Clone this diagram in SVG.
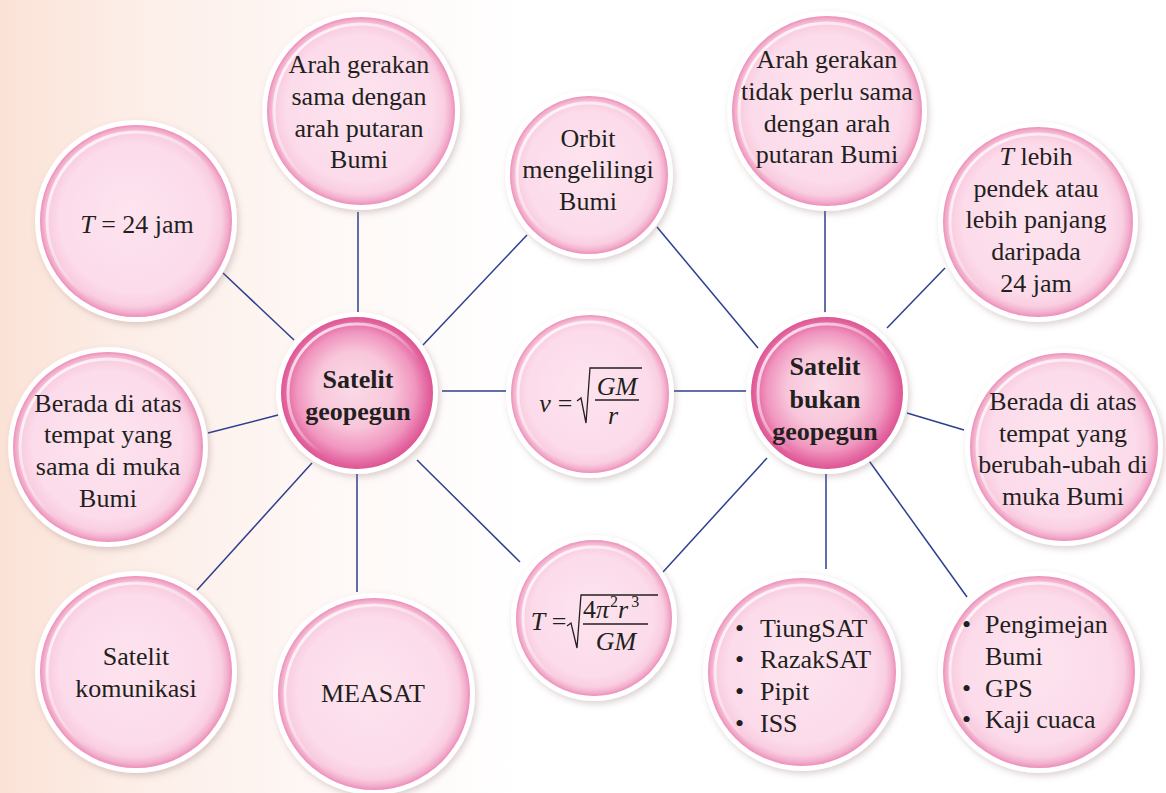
<svg xmlns="http://www.w3.org/2000/svg" width="1166" height="793" viewBox="0 0 1166 793">
<defs>
<linearGradient id="bg" x1="0" y1="0" x2="1" y2="0">
<stop offset="0" stop-color="#fbe2d6"/>
<stop offset="0.1" stop-color="#fcede6"/>
<stop offset="0.28" stop-color="#fef8f6"/>
<stop offset="0.45" stop-color="#ffffff"/>
</linearGradient>
<radialGradient id="gLeaf" cx="0.5" cy="0.5" r="0.5" fx="0.46" fy="0.44">
<stop offset="0" stop-color="#fde4ef"/>
<stop offset="0.78" stop-color="#fcdbea"/>
<stop offset="0.9" stop-color="#f9cee1"/>
<stop offset="0.96" stop-color="#f3afcd"/>
<stop offset="1" stop-color="#ec8fb9"/>
</radialGradient>
<radialGradient id="gHub" cx="0.5" cy="0.5" r="0.5" fx="0.47" fy="0.45">
<stop offset="0" stop-color="#fbdbe8"/>
<stop offset="0.5" stop-color="#f8c6da"/>
<stop offset="0.78" stop-color="#f096bf"/>
<stop offset="0.92" stop-color="#e56aa3"/>
<stop offset="1" stop-color="#dd5592"/>
</radialGradient>
<linearGradient id="gHl" x1="0" y1="0" x2="1" y2="1">
<stop offset="0" stop-color="#ffffff" stop-opacity="0.95"/>
<stop offset="0.45" stop-color="#ffffff" stop-opacity="0.35"/>
<stop offset="0.6" stop-color="#ffffff" stop-opacity="0"/>
</linearGradient>
<filter id="sh" x="-20%" y="-20%" width="140%" height="140%">
<feDropShadow dx="2" dy="3" stdDeviation="3" flood-color="#8a6a70" flood-opacity="0.3"/>
</filter>
</defs>
<style>
.ring{fill:#ffffff;filter:url(#sh)}
.leaf{fill:url(#gLeaf)}
.hub{fill:url(#gHub)}
.hl{fill:none;stroke:url(#gHl);stroke-width:3}
.t{font-family:"Liberation Serif","Times New Roman",serif;font-size:26px;fill:#231f20;text-anchor:middle}
.l{text-anchor:start}
.b{font-weight:bold}
.i{font-style:italic}
.con{stroke:#2e3f8e;stroke-width:1.5;fill:none}
.m{stroke:#231f20;stroke-width:1.3;fill:none}
</style>
<rect width="1166" height="793" fill="url(#bg)"/>

<g id="connectors">
<line class="con" x1="358" y1="212" x2="358" y2="313"/>
<line class="con" x1="223" y1="273" x2="294" y2="340"/>
<line class="con" x1="208" y1="433" x2="278" y2="415"/>
<line class="con" x1="197" y1="590" x2="312" y2="463"/>
<line class="con" x1="357" y1="474" x2="357" y2="592"/>
<line class="con" x1="423" y1="345" x2="527" y2="235"/>
<line class="con" x1="442" y1="391" x2="506" y2="391"/>
<line class="con" x1="417" y1="460" x2="520" y2="562"/>
<line class="con" x1="663" y1="572" x2="767" y2="458"/>
<line class="con" x1="674" y1="391" x2="747" y2="391"/>
<line class="con" x1="657" y1="227" x2="758" y2="348"/>
<line class="con" x1="825" y1="211" x2="825" y2="313"/>
<line class="con" x1="945" y1="268" x2="887" y2="328"/>
<line class="con" x1="907" y1="413" x2="964" y2="430"/>
<line class="con" x1="862" y1="451" x2="967" y2="597"/>
<line class="con" x1="826" y1="474" x2="826" y2="569"/>
</g>

<g id="n-arah-sama">
<circle class="ring" cx="361" cy="111" r="99"/>
<circle class="leaf" cx="361" cy="111" r="94"/>
<circle class="hl" cx="361" cy="111" r="87"/>
<text class="t"><tspan x="359" y="73">Arah gerakan</tspan><tspan x="359" y="105">sama dengan</tspan><tspan x="359" y="137">arah putaran</tspan><tspan x="359" y="168">Bumi</tspan></text>
</g>

<g id="n-t24">
<circle class="ring" cx="136" cy="221" r="101"/>
<circle class="leaf" cx="136" cy="221" r="96"/>
<circle class="hl" cx="136" cy="221" r="89"/>
<text class="t" x="137" y="233"><tspan class="i">T</tspan> = 24 jam</text>
</g>

<g id="n-berada-sama">
<circle class="ring" cx="108" cy="447" r="100"/>
<circle class="leaf" cx="108" cy="447" r="95"/>
<circle class="hl" cx="108" cy="447" r="88"/>
<text class="t"><tspan x="108" y="412">Berada di atas</tspan><tspan x="108" y="443">tempat yang</tspan><tspan x="108" y="475">sama di muka</tspan><tspan x="108" y="507">Bumi</tspan></text>
</g>

<g id="n-komunikasi">
<circle class="ring" cx="136" cy="672" r="101"/>
<circle class="leaf" cx="136" cy="672" r="96"/>
<circle class="hl" cx="136" cy="672" r="89"/>
<text class="t"><tspan x="136" y="665">Satelit</tspan><tspan x="136" y="697">komunikasi</tspan></text>
</g>

<g id="n-measat">
<circle class="ring" cx="374" cy="694" r="101"/>
<circle class="leaf" cx="374" cy="694" r="96"/>
<circle class="hl" cx="374" cy="694" r="89"/>
<text class="t" x="373" y="702">MEASAT</text>
</g>

<g id="hub-geopegun">
<circle class="ring" cx="357" cy="393" r="81"/>
<circle class="hub" cx="357" cy="393" r="76"/>
<circle class="hl" cx="357" cy="393" r="69"/>
<text class="t b"><tspan x="358" y="388">Satelit</tspan><tspan x="358" y="420">geopegun</tspan></text>
</g>

<g id="n-orbit">
<circle class="ring" cx="589" cy="175" r="84"/>
<circle class="leaf" cx="589" cy="175" r="79"/>
<circle class="hl" cx="589" cy="175" r="72"/>
<text class="t"><tspan x="588" y="147">Orbit</tspan><tspan x="588" y="178">mengelilingi</tspan><tspan x="588" y="210">Bumi</tspan></text>
</g>

<g id="n-v">
<circle class="ring" cx="590" cy="394" r="84"/>
<circle class="leaf" cx="590" cy="394" r="79"/>
<circle class="hl" cx="590" cy="394" r="72"/>
<text class="t i" x="545" y="412">v</text>
<text class="t" x="565" y="412">=</text>
<polyline class="m" points="577,401 581,398 586,423 590,368 642,368"/>
<text class="t i" x="617" y="395">GM</text>
<line class="m" x1="595" y1="400" x2="639" y2="400"/>
<text class="t i" x="613" y="424">r</text>
</g>

<g id="n-T">
<circle class="ring" cx="594" cy="618" r="83"/>
<circle class="leaf" cx="594" cy="618" r="78"/>
<circle class="hl" cx="594" cy="618" r="71"/>
<text class="t i" x="538" y="630">T</text>
<text class="t" x="559" y="630">=</text>
<polyline class="m" points="567,626 571,623 577,648 581,595 658,595"/>
<text class="t l" x="583" y="618">4<tspan class="i">π</tspan><tspan font-size="16" dx="1" dy="-11">2</tspan><tspan class="i" dy="11">r</tspan><tspan font-size="16" dx="3" dy="-11">3</tspan></text>
<line class="m" x1="583" y1="624" x2="648" y2="624"/>
<text class="t i" x="616" y="650">GM</text>
</g>

<g id="hub-bukan">
<circle class="ring" cx="827" cy="393" r="81"/>
<circle class="hub" cx="827" cy="393" r="76"/>
<circle class="hl" cx="827" cy="393" r="69"/>
<text class="t b"><tspan x="825" y="375">Satelit</tspan><tspan x="825" y="408">bukan</tspan><tspan x="825" y="440">geopegun</tspan></text>
</g>

<g id="n-arah-tidak">
<circle class="ring" cx="827" cy="111" r="100"/>
<circle class="leaf" cx="827" cy="111" r="95"/>
<circle class="hl" cx="827" cy="111" r="88"/>
<text class="t"><tspan x="827" y="68">Arah gerakan</tspan><tspan x="827" y="100">tidak perlu sama</tspan><tspan x="827" y="132">dengan arah</tspan><tspan x="827" y="163">putaran Bumi</tspan></text>
</g>

<g id="n-t-lebih">
<circle class="ring" cx="1038" cy="222" r="100"/>
<circle class="leaf" cx="1038" cy="222" r="95"/>
<circle class="hl" cx="1038" cy="222" r="88"/>
<text class="t"><tspan x="1036" y="165"><tspan class="i">T</tspan> lebih</tspan><tspan x="1036" y="197">pendek atau</tspan><tspan x="1036" y="228">lebih panjang</tspan><tspan x="1036" y="260">daripada</tspan><tspan x="1036" y="292">24 jam</tspan></text>
</g>

<g id="n-berada-berubah">
<circle class="ring" cx="1064" cy="447" r="99"/>
<circle class="leaf" cx="1064" cy="447" r="94"/>
<circle class="hl" cx="1064" cy="447" r="87"/>
<text class="t"><tspan x="1063" y="410">Berada di atas</tspan><tspan x="1063" y="442">tempat yang</tspan><tspan x="1063" y="473">berubah-ubah di</tspan><tspan x="1063" y="505">muka Bumi</tspan></text>
</g>

<g id="n-contoh-bukan">
<circle class="ring" cx="802" cy="672" r="99"/>
<circle class="leaf" cx="802" cy="672" r="94"/>
<circle class="hl" cx="802" cy="672" r="87"/>
<text class="t l"><tspan x="735" y="637">•</tspan><tspan x="735" y="668">•</tspan><tspan x="735" y="700">•</tspan><tspan x="735" y="732">•</tspan></text>
<text class="t l"><tspan x="760" y="637">TiungSAT</tspan><tspan x="760" y="668">RazakSAT</tspan><tspan x="760" y="700">Pipit</tspan><tspan x="760" y="732">ISS</tspan></text>
</g>

<g id="n-kegunaan">
<circle class="ring" cx="1039" cy="672" r="101"/>
<circle class="leaf" cx="1039" cy="672" r="96"/>
<circle class="hl" cx="1039" cy="672" r="89"/>
<text class="t l"><tspan x="962" y="633">•</tspan><tspan x="962" y="697">•</tspan><tspan x="962" y="728">•</tspan></text>
<text class="t l"><tspan x="985" y="633">Pengimejan</tspan><tspan x="985" y="665">Bumi</tspan><tspan x="985" y="697">GPS</tspan><tspan x="985" y="728">Kaji cuaca</tspan></text>
</g>
</svg>
